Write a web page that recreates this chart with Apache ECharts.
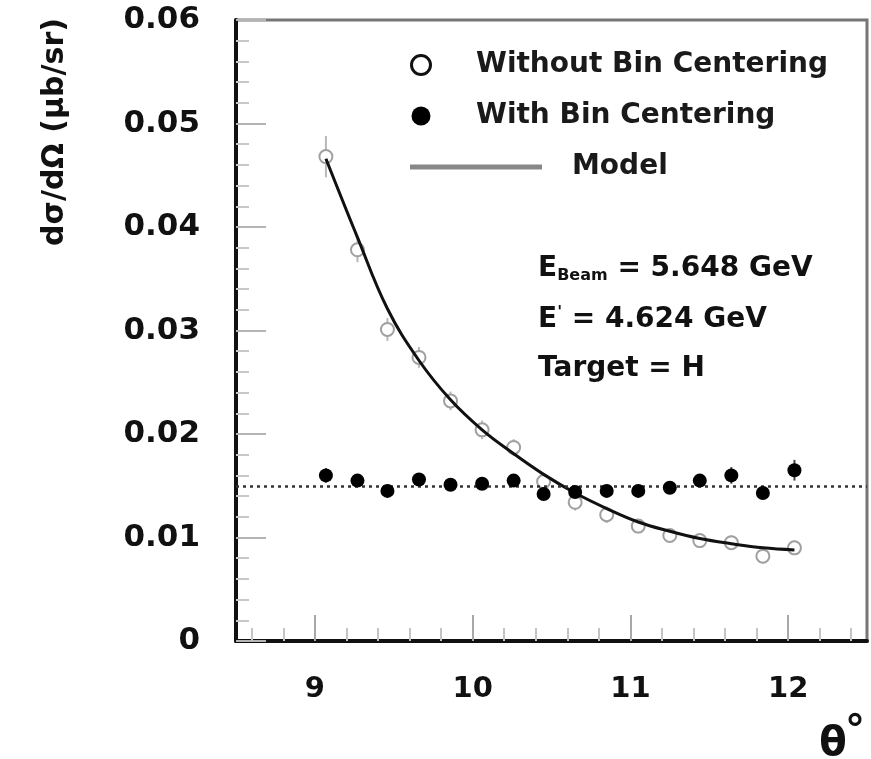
<!DOCTYPE html>
<html>
<head>
<meta charset="utf-8">
<script src="https://cdn.jsdelivr.net/npm/echarts@6/dist/echarts.min.js"></script>
<style>
  html, body { margin: 0; padding: 0; background: #fff; }
  #chart { width: 871px; height: 759px; }
</style>
</head>
<body>
<div id="chart"></div>
<script>
// Scattering angle of each bin (degrees)
const theta = [9.07, 9.27, 9.46, 9.66, 9.86, 10.06, 10.26, 10.45,
               10.65, 10.85, 11.05, 11.25, 11.44, 11.64, 11.84, 12.04];

// Cross section without bin centering (ub/sr) and its errors
const withoutBC  = [0.0468, 0.0378, 0.0301, 0.0274, 0.0232, 0.0204, 0.0187, 0.0154,
                    0.0134, 0.0122, 0.0111, 0.0102, 0.0097, 0.0095, 0.0082, 0.0090];
const withoutErr = [0.0020, 0.0012, 0.0011, 0.0010, 0.0009, 0.0009, 0.0008, 0.0008,
                    0.0008, 0.0008, 0.0007, 0.0007, 0.0007, 0.0007, 0.0007, 0.0007];

// Cross section with bin centering (ub/sr) and its errors
const withBC  = [0.0160, 0.0155, 0.0145, 0.0156, 0.0151, 0.0152, 0.0155, 0.0142,
                 0.0144, 0.0145, 0.0145, 0.0148, 0.0155, 0.0160, 0.0143, 0.0165];
const withErr = [0.0007, 0.0006, 0.0006, 0.0006, 0.0006, 0.0006, 0.0006, 0.0006,
                 0.0006, 0.0006, 0.0006, 0.0006, 0.0006, 0.0008, 0.0006, 0.0010];

// Model cross section at each bin
const model = [0.0466, 0.0390, 0.0321, 0.0271, 0.0233, 0.0204, 0.0181, 0.0161,
               0.0143, 0.0128, 0.0115, 0.0106, 0.0099, 0.0094, 0.0090, 0.0088];

// Constant reference level (dotted line)
const flatLevel = 0.015;

// Axis ticks and labels
const xMajorTicks = [9, 10, 11, 12];
const yMajorTicks = [0, 0.01, 0.02, 0.03, 0.04, 0.05, 0.06];
const yTickLabels = ['0', '0.01', '0.02', '0.03', '0.04', '0.05', '0.06'];

const FONT = '"DejaVu Sans", "Liberation Sans", Arial, sans-serif';

// Minor ticks every 0.2 degree, skipping the major positions
const xMinorTicks = [];
for (let k = 43; k <= 62; k++) {
  if (k % 5 !== 0) xMinorTicks.push(+(k * 0.2).toFixed(1));
}

function errorBars(name, vals, errs, color, width, z) {
  return {
    name: name,
    type: 'custom',
    xAxisIndex: 0,
    yAxisIndex: 0,
    silent: true,
    z: z,
    data: theta.map((t, i) => [t, vals[i] - errs[i], vals[i] + errs[i]]),
    encode: { x: 0, y: [1, 2] },
    renderItem: function (params, api) {
      const lo = api.coord([api.value(0), api.value(1)]);
      const hi = api.coord([api.value(0), api.value(2)]);
      return {
        type: 'line',
        shape: { x1: lo[0], y1: lo[1], x2: hi[0], y2: hi[1] },
        style: { stroke: color, lineWidth: width }
      };
    }
  };
}

const chart = echarts.init(document.getElementById('chart'), null, { renderer: 'canvas' });

const gridBox = { left: 236, top: 20, width: 631, height: 621 };

chart.setOption({
  animation: false,
  backgroundColor: '#fff',
  grid: [
    Object.assign({ show: true, borderColor: '#767676', borderWidth: 3, backgroundColor: 'transparent' }, gridBox),
    Object.assign({ show: false }, gridBox)
  ],
  xAxis: [
    {
      type: 'value', gridIndex: 0, min: 8.5, max: 12.5,
      axisLine: { show: true, lineStyle: { color: '#111', width: 4 } },
      axisTick: { show: true, inside: true, length: 26, customValues: xMajorTicks,
                  lineStyle: { color: '#a8a8a8', width: 2 } },
      axisLabel: { show: true, customValues: xMajorTicks, margin: 34,
                   fontFamily: FONT, fontWeight: 'bold', fontSize: 29, color: '#111' },
      splitLine: { show: false }
    },
    {
      type: 'value', gridIndex: 1, min: 8.5, max: 12.5,
      axisLine: { show: false },
      axisTick: { show: true, inside: true, length: 13, customValues: xMinorTicks,
                  lineStyle: { color: '#c4c4c4', width: 2 } },
      axisLabel: { show: false },
      splitLine: { show: false }
    }
  ],
  yAxis: [
    {
      type: 'value', gridIndex: 0, min: 0, max: 0.06, interval: 0.01,
      axisLine: { show: true, lineStyle: { color: '#111', width: 4 } },
      axisTick: { show: true, inside: true, length: 30, lineStyle: { color: '#b4b4b4', width: 2 } },
      minorTick: { show: true, splitNumber: 5, length: 13, lineStyle: { color: '#c8c8c8', width: 2 } },
      axisLabel: {
        show: true, margin: 36, fontFamily: FONT, fontWeight: 'bold', fontSize: 31, color: '#111',
        formatter: function (v) {
          const idx = yMajorTicks.findIndex(t => Math.abs(t - v) < 1e-9);
          return idx >= 0 ? yTickLabels[idx] : '';
        }
      },
      splitLine: { show: false },
      minorSplitLine: { show: false }
    },
    { type: 'value', gridIndex: 1, min: 0, max: 0.06, show: false }
  ],
  legend: [
    {
      orient: 'vertical', left: 405, top: 46, itemWidth: 100, itemHeight: 19, itemGap: 23,
      selectedMode: false,
      textStyle: { fontFamily: FONT, fontWeight: 'bold', fontSize: 28, lineHeight: 28, color: '#1a1a1a' },
      data: [
        { name: 'Without Bin Centering', icon: 'circle',
          itemStyle: { color: '#fff', borderColor: '#111', borderWidth: 3, opacity: 1 } },
        { name: 'With Bin Centering', icon: 'circle',
          itemStyle: { color: '#000', borderWidth: 0, opacity: 1 } }
      ]
    },
    {
      orient: 'vertical', left: 405, top: 148, itemWidth: 132, itemHeight: 5,
      selectedMode: false,
      textStyle: { fontFamily: FONT, fontWeight: 'bold', fontSize: 28, lineHeight: 28, color: '#1a1a1a',
                   padding: [0, 0, 0, 25] },
      data: [
        { name: 'Model', icon: 'rect', itemStyle: { color: '#888', borderWidth: 0, opacity: 1 } }
      ]
    }
  ],
  graphic: [
    {
      type: 'text', x: 55, y: 132, rotation: Math.PI / 2,
      style: { text: 'dσ/dΩ (μb/sr)', font: 'bold 30px ' + FONT, fill: '#111',
               align: 'center', verticalAlign: 'middle' }
    },
    {
      type: 'text', x: 833, y: 745,
      style: { text: 'θ', font: 'bold 40px ' + FONT, fill: '#111', align: 'center', verticalAlign: 'middle' }
    },
    {
      type: 'text', x: 855, y: 733,
      style: { text: '°', font: 'bold 40px ' + FONT, fill: '#111', align: 'center', verticalAlign: 'middle' }
    },
    {
      type: 'text', x: 538, y: 269,
      style: {
        text: '{m|E}{s|Beam}{m| = 5.648 GeV}',
        verticalAlign: 'middle',
        rich: {
          m: { font: 'bold 28px ' + FONT, fill: '#111' },
          s: { font: 'bold 16px ' + FONT, fill: '#111', padding: [14, 0, 0, 0] }
        }
      }
    },
    {
      type: 'text', x: 538, y: 320,
      style: {
        text: "{m|E}{p|'}{m| = 4.624 GeV}",
        verticalAlign: 'middle',
        rich: {
          m: { font: 'bold 28px ' + FONT, fill: '#111' },
          p: { font: 'bold 16px ' + FONT, fill: '#111', padding: [0, 0, 14, 0] }
        }
      }
    },
    {
      type: 'text', x: 538, y: 369,
      style: { text: 'Target = H', font: 'bold 28px ' + FONT, fill: '#111', verticalAlign: 'middle' }
    }
  ],
  series: [
    errorBars('withoutErrBars', withoutBC, withoutErr, '#b8b8b8', 2, 2),
    {
      name: 'Without Bin Centering',
      type: 'scatter',
      symbol: 'emptyCircle',
      symbolSize: 13,
      z: 3,
      itemStyle: { color: '#a0a0a0', borderColor: '#a0a0a0', borderWidth: 2, opacity: 1 },
      data: theta.map((t, i) => [t, withoutBC[i]]),
      markLine: {
        silent: true,
        precision: 4,
        symbol: ['none', 'none'],
        label: { show: false },
        lineStyle: { type: [3, 4], color: '#333', width: 2.5 },
        data: [{ yAxis: flatLevel }]
      }
    },
    {
      name: 'Model',
      type: 'line',
      smooth: 0.4,
      symbol: 'none',
      showSymbol: false,
      z: 4,
      lineStyle: { color: '#111', width: 3 },
      data: theta.map((t, i) => [t, model[i]])
    },
    errorBars('withErrBars', withBC, withErr, '#444', 2, 5),
    {
      name: 'With Bin Centering',
      type: 'scatter',
      symbol: 'circle',
      symbolSize: 14,
      z: 6,
      itemStyle: { color: '#000', opacity: 1 },
      data: theta.map((t, i) => [t, withBC[i]])
    }
  ]
});
</script>
</body>
</html>
